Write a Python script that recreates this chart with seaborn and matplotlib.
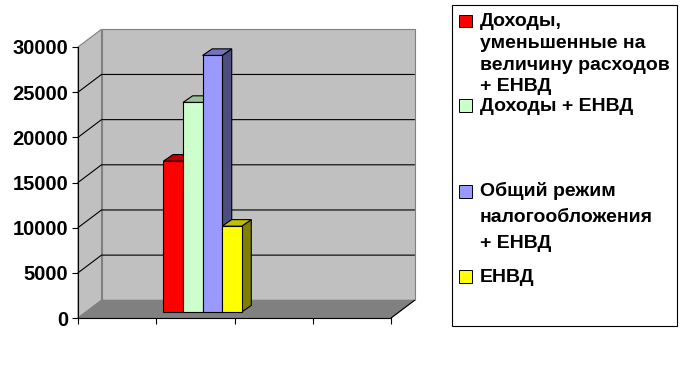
import numpy as np
import pandas as pd
import matplotlib
matplotlib.use("Agg")
import matplotlib.pyplot as plt
from matplotlib.patches import Polygon, Rectangle
import seaborn as sns

# Data: four category slots, values only in the second slot
categories = ["1", "2", "3", "4"]
series = [
    "Доходы,\nуменьшенные на\nвеличину расходов\n+ ЕНВД",
    "Доходы + ЕНВД",
    "Общий режим\nналогообложения\n+ ЕНВД",
    "ЕНВД",
]
slot = ["2", "2", "2", "2"]
values = [16700, 23200, 28400, 9500]
colors = ["#FF0000", "#CCFFCC", "#9999FF", "#FFFF00"]
yticks = [0, 5000, 10000, 15000, 20000, 25000, 30000]

df = pd.DataFrame({"slot": slot, "series": series, "value": values})

sns.set_theme(style="white")
plt.rcParams["font.family"] = ["Liberation Sans", "DejaVu Sans"]
plt.rcParams["font.weight"] = "bold"

W, H = 687, 365
fig = plt.figure(figsize=(W / 100, H / 100), dpi=100)
fig.patch.set_facecolor("white")


def fx(x):
    return x / W


def fy(y):
    return (H - y) / H


# front plane of the 3D box, in pixels
left, right, bottom, top = 78, 391, 318, 47
ax = fig.add_axes([fx(left), fy(bottom), fx(right - left), (bottom - top) / H])
ax.set_facecolor("none")

sns.barplot(data=df, x="slot", y="value", hue="series", order=categories,
            hue_order=series, palette=colors, saturation=1, width=1.0,
            dodge=True, edgecolor="black", linewidth=0.8, legend=False, ax=ax)
bars = [p for p in ax.patches if isinstance(p, Rectangle)]

ax.set_xlim(-0.5, 3.5)
ax.set_ylim(0, 30000)

# pixel offsets converted to data units
ux = (right - left) / 4.0
uy = (bottom - top) / 30000.0


def off(px, py):
    return px / ux, py / uy


bx, by = off(23.5, 17.7)      # depth of the whole box
fx0, fy0 = off(7.2, 6.0)      # bar front plane
dx, dy = off(9.6, 6.6)        # bar depth

x0, x1 = -0.5, 3.5
# walls
ax.add_patch(Rectangle((x0 + bx, by), x1 - x0, 30000, facecolor="#C0C0C0",
                       edgecolor="#808080", lw=0.8, zorder=0.5, clip_on=False))
ax.add_patch(Polygon([(x0, 0), (x0, 30000), (x0 + bx, 30000 + by), (x0 + bx, by)],
                     closed=True, facecolor="#C0C0C0", edgecolor="#808080",
                     lw=0.8, zorder=0.5, clip_on=False))
ax.add_patch(Polygon([(x0, 0), (x1, 0), (x1 + bx, by), (x0 + bx, by)],
                     closed=True, facecolor="#808080", edgecolor="#808080",
                     lw=0.8, zorder=0.6, clip_on=False))
ax.plot([x1, x1 + bx], [0, by], color="black", lw=0.8, zorder=0.7, clip_on=False)
# gridlines on side and back walls
for v in yticks[1:-1]:
    ax.plot([x0, x0 + bx, x1 + bx], [v, v + by, v + by], color="black",
            lw=0.8, zorder=0.8, clip_on=False)

# 3D bars: front faces from seaborn, side and top faces added
for i, p in enumerate(bars):
    if not p.get_height() > 0:
        continue
    xl = p.get_x() + fx0
    xr = xl + p.get_width()
    yb = fy0
    yt = p.get_height() + fy0
    p.set_x(xl)
    p.set_y(yb)
    p.set_zorder(3 + 2 * i)
    p.set_clip_on(False)
    fc = np.array(matplotlib.colors.to_rgb(p.get_facecolor()))
    ax.add_patch(Polygon([(xr, yb), (xr, yt), (xr + dx, yt + dy), (xr + dx, yb + dy)],
                         closed=True, facecolor=fc * 0.5, edgecolor="black",
                         lw=0.8, zorder=2 + 2 * i, clip_on=False))
    ax.add_patch(Polygon([(xl, yt), (xr, yt), (xr + dx, yt + dy), (xl + dx, yt + dy)],
                         closed=True, facecolor=fc * 0.75, edgecolor="black",
                         lw=0.8, zorder=2 + 2 * i, clip_on=False))

for s in ["top", "right"]:
    ax.spines[s].set_visible(False)
ax.spines["left"].set_color("black")
ax.spines["bottom"].set_color("black")
ax.spines["left"].set_linewidth(0.8)
ax.spines["bottom"].set_linewidth(0.8)
ax.set_yticks(yticks)
ax.set_yticklabels([str(v) for v in yticks])
ax.set_xticks(np.arange(-0.5, 4.0, 1.0))
ax.set_xticklabels([""] * 5)
ax.tick_params(axis="both", direction="out", length=4, width=0.8,
               color="black", left=True, bottom=True)
ax.tick_params(axis="y", labelsize=14.5, pad=3, labelcolor="black")
ax.set_xlabel("")
ax.set_ylabel("")

# legend box (drawn by hand to follow the Excel layout)
fig.patches.append(Rectangle((fx(452), fy(326)), fx(677 - 452), (326 - 5) / H,
                             transform=fig.transFigure, facecolor="white",
                             edgecolor="black", lw=0.8))
baselines = [26, 110.7, 196.5, 281.7]
spacing = [21.8, 0, 25.8, 0]
for lab, col, b, sp in zip(series, colors, baselines, spacing):
    sq = 12.7
    fig.patches.append(Rectangle((fx(459.3), fy(b - 5 + sq / 2)), fx(sq), sq / H,
                                 transform=fig.transFigure, facecolor=col,
                                 edgecolor="black", lw=0.7))
    for k, line in enumerate(lab.split("\n")):
        fig.text(fx(480), fy(b + k * sp), line, fontsize=14, fontweight="bold",
                 color="black", va="baseline", ha="left")

fig.savefig("out.png", dpi=100)
